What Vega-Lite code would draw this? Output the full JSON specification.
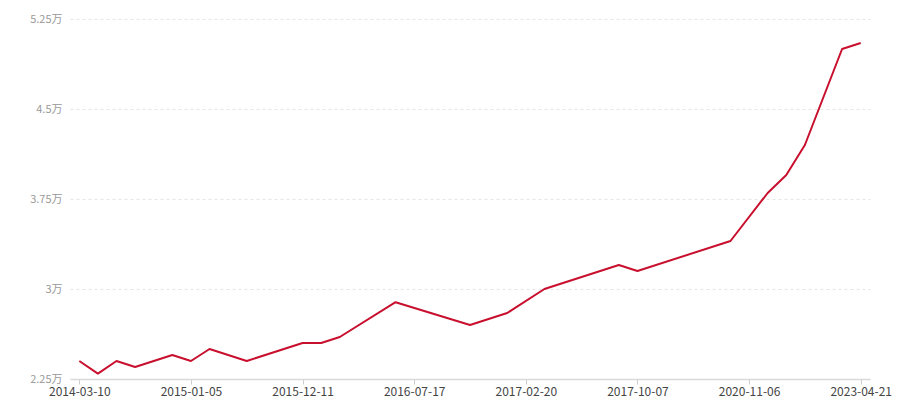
{
  "$schema": "https://vega.github.io/schema/vega-lite/v6.json",
  "autosize": "none",
  "width": 800,
  "height": 360,
  "padding": {"left": 70, "top": 19, "right": 30, "bottom": 21},
  "background": "white",
  "config": {"view": {"stroke": null}, "font": "Noto Sans CJK SC"},
  "data": {
    "values": [
      {"i": 0, "v": 24000},
      {"i": 1, "v": 22950},
      {"i": 2, "v": 24000},
      {"i": 3, "v": 23500},
      {"i": 5, "v": 24500},
      {"i": 6, "v": 24000},
      {"i": 7, "v": 25000},
      {"i": 9, "v": 24000},
      {"i": 12, "v": 25500},
      {"i": 13, "v": 25500},
      {"i": 14, "v": 26000},
      {"i": 17, "v": 28900},
      {"i": 21, "v": 27000},
      {"i": 23, "v": 28000},
      {"i": 25, "v": 30000},
      {"i": 29, "v": 32000},
      {"i": 30, "v": 31500},
      {"i": 35, "v": 34000},
      {"i": 37, "v": 38000},
      {"i": 38, "v": 39500},
      {"i": 39, "v": 42000},
      {"i": 41, "v": 50000},
      {"i": 42, "v": 50500}
    ]
  },
  "mark": {"type": "line", "color": "#c8102e", "strokeWidth": 2, "strokeJoin": "round"},
  "encoding": {
    "x": {
      "field": "i",
      "type": "quantitative",
      "scale": {"domain": [-0.5, 42.5], "nice": false, "zero": false},
      "axis": {
        "title": null,
        "values": [0, 6, 12, 18, 24, 30, 36, 42],
        "labelExpr": "['2014-03-10','2015-01-05','2015-12-11','2016-07-17','2017-02-20','2017-10-07','2020-11-06','2023-04-21'][datum.value/6]",
        "grid": false,
        "domainColor": "#d9d9d9",
        "domainWidth": 1.5,
        "tickColor": "#cccccc",
        "tickSize": 5,
        "labelColor": "#444444",
        "labelFontSize": 12,
        "labelFont": "Noto Sans CJK SC",
        "labelPadding": 2,
        "labelFlush": false,
        "labelOverlap": false
      }
    },
    "y": {
      "field": "v",
      "type": "quantitative",
      "scale": {"domain": [22500, 52500], "nice": false, "zero": false},
      "axis": {
        "title": null,
        "values": [22500, 30000, 37500, 45000, 52500],
        "labelExpr": "datum.value/10000 + '万'",
        "domain": false,
        "ticks": false,
        "grid": true,
        "gridColor": "#e6e6e6",
        "gridDash": [3, 3],
        "gridWidth": 1,
        "labelColor": "#999999",
        "labelFontSize": 11,
        "labelFont": "Noto Sans CJK SC",
        "labelPadding": 8
      }
    }
  }
}
